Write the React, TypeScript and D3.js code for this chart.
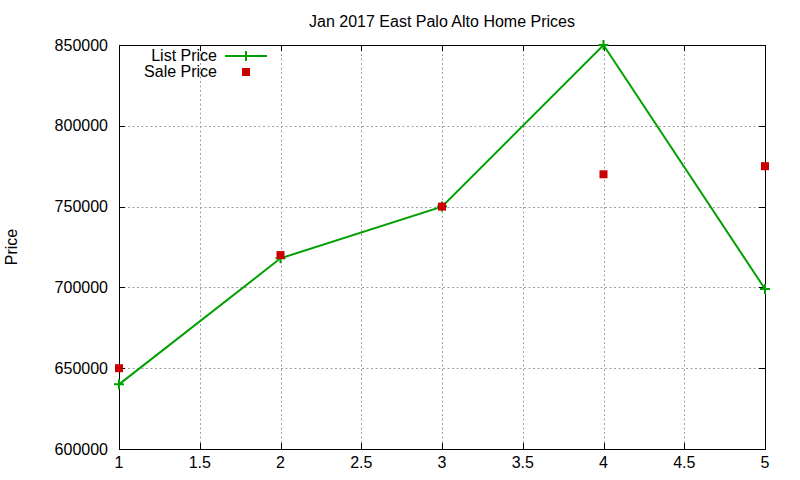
import React, { useEffect, useRef } from 'react';
import * as d3 from 'd3';

const xValues = [1, 2, 3, 4, 5];
const listPrice = [640000, 718000, 750000, 850000, 699000];
const salePrice = [650000, 720000, 750000, 770000, 775000];
const xTicks = [1, 1.5, 2, 2.5, 3, 3.5, 4, 4.5, 5];
const yTicks = [600000, 650000, 700000, 750000, 800000, 850000];

const W = 800;
const H = 480;
const left = 119;
const right = 765;
const top = 45;
const bottom = 449;
const font = '"Liberation Sans", Arial, sans-serif';

const App: React.FC = () => {
  const ref = useRef<SVGSVGElement>(null);

  useEffect(() => {
    const svg = d3.select(ref.current);
    svg.selectAll('*').remove();

    const x = d3.scaleLinear().domain([1, 5]).range([left, right]);
    const y = d3.scaleLinear().domain([600000, 850000]).range([bottom, top]);

    svg.append('rect').attr('width', W).attr('height', H).attr('fill', '#fff');

    // grid
    const grid = svg.append('g')
      .attr('stroke', '#a0a0a0')
      .attr('stroke-width', 1)
      .attr('stroke-dasharray', '2,2.5');
    xTicks.slice(1, -1).forEach((t) => {
      grid.append('line')
        .attr('x1', Math.round(x(t)) + 0.5).attr('x2', Math.round(x(t)) + 0.5)
        .attr('y1', top).attr('y2', bottom);
    });
    yTicks.slice(1, -1).forEach((t) => {
      grid.append('line')
        .attr('x1', left).attr('x2', right)
        .attr('y1', Math.round(y(t)) + 0.5).attr('y2', Math.round(y(t)) + 0.5);
    });

    // ticks (inward, mirrored)
    const ticks = svg.append('g').attr('stroke', '#000').attr('stroke-width', 1);
    xTicks.forEach((t) => {
      const px = Math.round(x(t)) + 0.5;
      ticks.append('line').attr('x1', px).attr('x2', px).attr('y1', bottom).attr('y2', bottom - 6);
      ticks.append('line').attr('x1', px).attr('x2', px).attr('y1', top).attr('y2', top + 6);
    });
    yTicks.forEach((t) => {
      const py = Math.round(y(t)) + 0.5;
      ticks.append('line').attr('x1', left).attr('x2', left + 6).attr('y1', py).attr('y2', py);
      ticks.append('line').attr('x1', right).attr('x2', right - 6).attr('y1', py).attr('y2', py);
    });

    // border
    svg.append('rect')
      .attr('x', left + 0.5).attr('y', top + 0.5)
      .attr('width', right - left).attr('height', bottom - top)
      .attr('fill', 'none').attr('stroke', '#000').attr('stroke-width', 1);

    // tick labels
    const labels = svg.append('g').attr('font-family', font).attr('font-size', 16).attr('fill', '#000');
    xTicks.forEach((t) => {
      labels.append('text')
        .attr('x', x(t)).attr('y', bottom + 19)
        .attr('text-anchor', 'middle')
        .text(String(t));
    });
    yTicks.forEach((t) => {
      labels.append('text')
        .attr('x', left - 11).attr('y', y(t) + 5.5)
        .attr('text-anchor', 'end')
        .text(String(t));
    });

    // title & axis label
    svg.append('text')
      .attr('x', 442).attr('y', 27)
      .attr('text-anchor', 'middle')
      .attr('font-family', font).attr('font-size', 16)
      .text('Jan 2017 East Palo Alto Home Prices');
    svg.append('text')
      .attr('transform', `translate(17, ${(top + bottom) / 2}) rotate(-90)`)
      .attr('text-anchor', 'middle')
      .attr('font-family', font).attr('font-size', 16)
      .text('Price');

    // list price line
    const line = d3.line<number>()
      .x((_, i) => x(xValues[i]))
      .y((d) => y(d));
    svg.append('path')
      .datum(listPrice)
      .attr('d', line)
      .attr('fill', 'none')
      .attr('stroke', '#00a000')
      .attr('stroke-width', 2);

    const plus = (g: d3.Selection<SVGGElement, unknown, null, undefined>, cx: number, cy: number) => {
      g.append('path')
        .attr('d', `M${cx - 5},${cy}H${cx + 5}M${cx},${cy - 5}V${cy + 5}`)
        .attr('stroke', '#00a000').attr('stroke-width', 2);
    };
    const marks = svg.append('g');
    listPrice.forEach((v, i) => plus(marks, x(xValues[i]), y(v)));

    // sale price squares
    svg.append('g').selectAll('rect')
      .data(salePrice)
      .enter()
      .append('rect')
      .attr('x', (_, i) => x(xValues[i]) - 4)
      .attr('y', (d) => y(d) - 4)
      .attr('width', 8).attr('height', 8)
      .attr('fill', '#cc0000');

    // legend
    const legend = svg.append('g').attr('font-family', font).attr('font-size', 16);
    legend.append('text').attr('x', 217).attr('y', 61).attr('text-anchor', 'end').text('List Price');
    legend.append('line')
      .attr('x1', 225).attr('x2', 267).attr('y1', 56).attr('y2', 56)
      .attr('stroke', '#00a000').attr('stroke-width', 2);
    plus(legend, 246, 56);
    legend.append('text').attr('x', 217).attr('y', 77).attr('text-anchor', 'end').text('Sale Price');
    legend.append('rect').attr('x', 242).attr('y', 68).attr('width', 8).attr('height', 8).attr('fill', '#cc0000');
  }, []);

  return (
    <svg ref={ref} width={W} height={H} style={{ position: 'absolute', left: 0, top: 0 }}></svg>
  );
};

export default App;
